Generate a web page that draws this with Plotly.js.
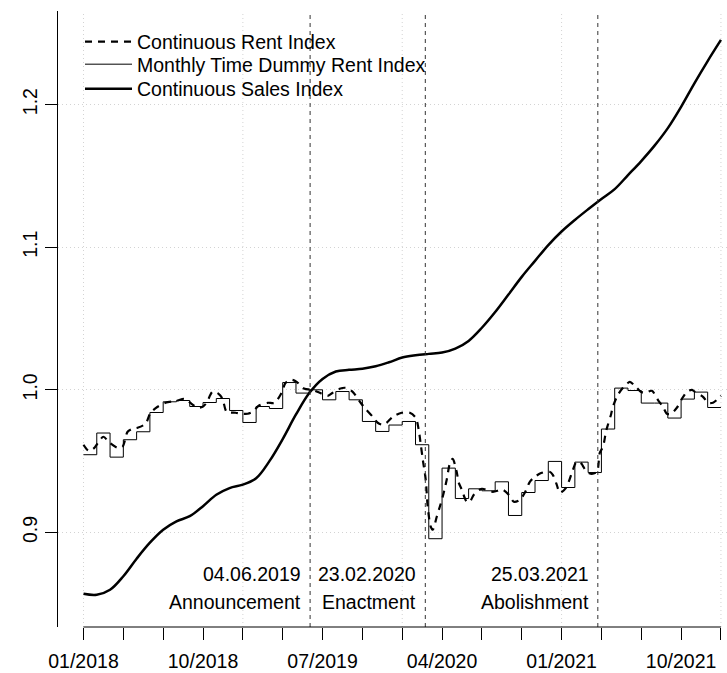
<!DOCTYPE html>
<html>
<head>
<meta charset="utf-8">
<script src="https://cdn.plot.ly/plotly-3.0.1.min.js"></script>
<style>html,body{margin:0;padding:0;background:#fff;}</style>
</head>
<body>
<div id="chart" style="width:727px;height:673px;"></div>
<script>
// ---- Monthly Time Dummy Rent Index (one value per month) ----
const dummyMonths = [
  '2018-01','2018-02','2018-03','2018-04','2018-05','2018-06','2018-07','2018-08','2018-09','2018-10','2018-11','2018-12',
  '2019-01','2019-02','2019-03','2019-04','2019-05','2019-06','2019-07','2019-08','2019-09','2019-10','2019-11','2019-12',
  '2020-01','2020-02','2020-03','2020-04','2020-05','2020-06','2020-07','2020-08','2020-09','2020-10','2020-11','2020-12',
  '2021-01','2021-02','2021-03','2021-04','2021-05','2021-06','2021-07','2021-08','2021-09','2021-10','2021-11','2021-12'
];
const dummyValues = [
  0.9545,0.9697,0.9528,0.9650,0.9706,0.9841,0.9916,0.9925,0.9883,0.9911,0.9939,0.9855,
  0.9771,0.9883,0.9869,1.0051,0.9977,1.0000,0.9930,0.9988,0.9930,0.9778,0.9708,0.9753,
  0.9778,0.9615,0.8956,0.9451,0.9238,0.9306,0.9292,0.9355,0.9119,0.9280,0.9364,0.9498,
  0.9315,0.9493,0.9420,0.9725,1.0012,0.9995,0.9907,0.9907,0.9802,0.9935,0.9984,0.9876
];
const dummyEnd = '2022-01';

// ---- Continuous Sales Index (monthly readings) ----
const salesMonths = dummyMonths.concat([dummyEnd]);
const salesValues = [
  0.8570,0.8563,0.8598,0.8693,0.8816,0.8928,0.9019,0.9078,0.9114,0.9184,0.9264,0.9311,
  0.9335,0.9380,0.9500,0.9655,0.9827,0.9977,1.0076,1.0128,1.0140,1.0148,1.0165,1.0193,
  1.0226,1.0242,1.0252,1.0261,1.0289,1.0343,1.0435,1.0545,1.0668,1.0792,1.0904,1.1015,
  1.1110,1.1191,1.1266,1.1338,1.1407,1.1505,1.1604,1.1712,1.1835,1.1984,1.2149,1.2305,
  1.2453
];

// ---- Continuous Rent Index (time in months since 01/2018) ----
const contRentMonths = [
  0,0.38,0.75,1.2,1.5,1.96,2.56,2.94,3.32,3.69,4.07,4.67,5.05,5.58,6.18,7.0,7.61,8.14,8.59,8.97,
  9.27,9.72,10.17,10.47,10.78,11.45,11.98,12.36,12.74,13.19,13.87,14.39,14.92,15.22,15.67,16.05,16.35,16.65,17.18,17.78,
  18.39,18.76,19.29,19.74,20.27,20.87,21.17,21.78,22.15,22.53,22.83,23.29,23.96,24.57,25.02,25.24,25.4,25.55,25.77,25.92,
  26.15,26.3,26.6,26.83,27.05,27.35,27.58,27.8,28.1,28.26,28.49,28.7,28.86,29.09,29.39,29.99,30.82,31.57,32.03,32.4,
  32.86,33.23,33.61,33.99,34.5,35.1,35.34,35.64,35.87,36.33,36.85,37.08,37.38,37.6,37.9,38.28,38.66,38.88,39.12,39.34,
  39.49,39.72,39.86,40.24,40.62,40.92,41.14,41.59,41.97,42.27,42.8,43.25,43.63,43.93,44.23,44.68,45.06,45.44,45.82,46.04,
  46.65,47.03,47.4,47.85,48.0
];
const contRentValues = [
  0.9615,0.9573,0.9587,0.9643,0.9671,0.9629,0.9594,0.9601,0.9706,0.9727,0.9734,0.9762,0.9839,0.9881,0.9909,0.9923,0.9937,0.9902,0.9874,0.9881,
  0.9909,0.9986,0.9972,0.9937,0.9846,0.9839,0.9832,0.9832,0.9846,0.9888,0.9909,0.9909,0.9979,1.0049,1.0070,1.0056,1.0028,1.0007,1.0000,0.9979,
  0.9958,0.9979,1.0007,1.0014,0.9986,0.9909,0.9874,0.9811,0.9769,0.9755,0.9769,0.9811,0.9839,0.9839,0.9804,0.9720,0.9615,0.9509,0.9369,0.9180,
  0.9040,0.9019,0.9110,0.9180,0.9250,0.9369,0.9481,0.9516,0.9425,0.9348,0.9299,0.9243,0.9215,0.9215,0.9264,0.9306,0.9285,0.9299,0.9264,0.9215,
  0.9229,0.9278,0.9355,0.9390,0.9418,0.9425,0.9404,0.9334,0.9278,0.9313,0.9439,0.9488,0.9495,0.9467,0.9425,0.9411,0.9425,0.9559,0.9601,0.9706,
  0.9755,0.9825,0.9881,0.9965,1.0014,1.0042,1.0056,1.0021,0.9986,0.9979,0.9993,0.9930,0.9881,0.9832,0.9832,0.9874,0.9937,0.9986,1.0000,0.9986,
  0.9951,0.9909,0.9909,0.9944,0.9958
];

// ---- Policy events ----
const eventDates  = ['2019-06-04','2020-02-23','2021-03-25'];
const eventLabels = ['Announcement','Enactment','Abolishment'];
const eventTexts  = ['04.06.2019','23.02.2020','25.03.2021'];

// ---- Axes ----
const xTickMonths = ['2018-01','2018-04','2018-07','2018-10','2019-01','2019-04','2019-07','2019-10',
  '2020-01','2020-04','2020-07','2020-10','2021-01','2021-04','2021-07','2021-10','2022-01'];
const xTickText = ['01/2018','','','10/2018','','','07/2019','','','04/2020','','','01/2021','','','10/2021',''];
const xGridMonths = ['2018-01','2019-01','2020-01','2021-01','2022-01'];
const yTickVals = [0.9, 1.0, 1.1, 1.2];
const yTickText = ['0.9','1.0','1.1','1.2'];

// ---- helpers: convert to decimal years (time axis as in a ts plot) ----
function ym(s){ const p = s.split('-').map(Number); return p[0] + (p[1]-1)/12; }
function dy(s){ const p = s.split('-').map(Number);
  const a = Date.UTC(p[0],0,1), b = Date.UTC(p[0]+1,0,1);
  return p[0] + (Date.UTC(p[0],p[1]-1,p[2]) - a)/(b - a); }
const T0 = ym('2018-01');

const dummyX = dummyMonths.map(ym).concat([ym(dummyEnd)]);
const dummyY = dummyValues.concat([dummyValues[dummyValues.length-1]]);

const FAM = '"Liberation Sans", Arial, Helvetica, sans-serif';
const FS = 19.5;

const traces = [
  { x: contRentMonths.map(m => T0 + m/12), y: contRentValues, type:'scatter', mode:'lines', legend:'legend',
    name:'Continuous Rent Index', line:{color:'#000', width:2.2, dash:'7px,6px', shape:'spline', smoothing:0.8} },
  { x: dummyX, y: dummyY, type:'scatter', mode:'lines', legend:'legend2',
    name:'Monthly Time Dummy Rent Index', line:{color:'#000', width:1, shape:'hv'} },
  { x: salesMonths.map(ym), y: salesValues, type:'scatter', mode:'lines', legend:'legend3',
    name:'Continuous Sales Index', line:{color:'#000', width:2.5, shape:'spline', smoothing:1} }
];

const shapes = [];
xGridMonths.forEach(m => shapes.push({type:'line', layer:'below', xref:'x', yref:'paper',
  x0: ym(m), x1: ym(m), y0:0, y1:1, line:{color:'#d3d3d3', width:1, dash:'1px,3px'}}));
eventDates.forEach(d => shapes.push({type:'line', layer:'above', xref:'x', yref:'paper',
  x0: dy(d), x1: dy(d), y0:0, y1:1, line:{color:'#333', width:1, dash:'4px,4px'}}));
shapes.push({type:'line', xref:'x', yref:'paper', x0: ym(xTickMonths[0]), x1: ym(xTickMonths[xTickMonths.length-1]),
  y0:0, y1:0, line:{color:'#000', width:1}});

const annotations = [];
eventDates.forEach((d,i) => {
  annotations.push({x: dy(d), y: 0.871, xref:'x', yref:'y', text: eventTexts[i], showarrow:false,
    xanchor:'right', yanchor:'middle', xshift:-8, borderpad:0, font:{family:FAM, size:FS, color:'#000'}});
  annotations.push({x: dy(d), y: 0.851, xref:'x', yref:'y', text: eventLabels[i], showarrow:false,
    xanchor:'right', yanchor:'middle', xshift:-8, borderpad:0, font:{family:FAM, size:FS, color:'#000'}});
});

function legendAt(topPx){
  return {x:(80-58)/669, y:1-(topPx-11)/616, xanchor:'left', yanchor:'top', bgcolor:'rgba(0,0,0,0)',
    borderwidth:0, font:{family:FAM, size:FS, color:'#000'}, itemwidth:47};
}

const layout = {
  width:727, height:673,
  margin:{l:58, r:0, t:11, b:46, pad:0},
  paper_bgcolor:'#fff', plot_bgcolor:'#fff',
  font:{family:FAM, size:FS, color:'#000'},
  showlegend:true,
  legend: legendAt(22.5),
  legend2: legendAt(45),
  legend3: legendAt(69.5),
  xaxis:{range:[2017.84, 2022.038], tickmode:'array', tickvals: xTickMonths.map(ym), ticktext: xTickText,
    ticks:'outside', ticklen:12, tickwidth:1, tickcolor:'#000', showline:false, showgrid:false, zeroline:false,
    ticklabelstandoff:5, tickfont:{family:FAM, size:FS, color:'#000'}},
  yaxis:{range:[0.8337, 1.2656], tickmode:'array', tickvals: yTickVals, ticktext: yTickText, tickangle:-90,
    ticks:'outside', ticklen:12, tickwidth:1, tickcolor:'#000', showline:true, linecolor:'#000', linewidth:1,
    showgrid:true, gridcolor:'#d3d3d3', gridwidth:1, griddash:'1px,3px', zeroline:false,
    ticklabelstandoff:0, tickfont:{family:FAM, size:FS, color:'#000'}},
  shapes: shapes,
  annotations: annotations
};

Plotly.newPlot('chart', traces, layout, {staticPlot:true, displayModeBar:false});
</script>
</body>
</html>
